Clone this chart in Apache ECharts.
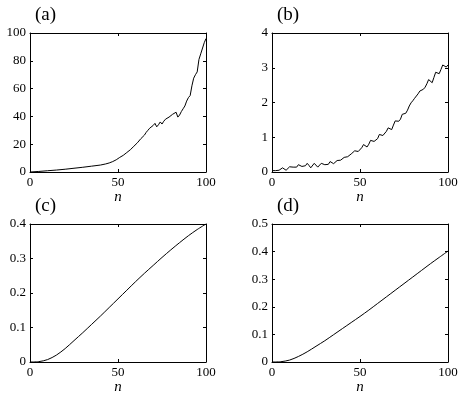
<!DOCTYPE html>
<html>
<head>
<meta charset="utf-8">
<script src="https://cdn.jsdelivr.net/npm/echarts@6/dist/echarts.min.js"></script>
<style>html,body{margin:0;padding:0;background:#fff;}#c{width:463px;height:396px;}</style>
</head>
<body>
<div id="c"></div>
<script>
// Panel (a)
const nA = [0,5,10,15,20,25,30,35,40,43,45,47,49,51,53,55,57,59,61,63,65,66,67,68,69,70,71,72,73,74,75,76,77,78,79,80,81,82,83,84,85,86,87,88,89,90,91,92,93,94,95,96,97,98,99,100];
const vA = [0,0.4,0.9,1.4,2.0,2.7,3.4,4.2,5.0,5.8,6.5,7.5,8.8,10.5,12,14,16,18.5,21,24,26.5,28.5,30,31.5,32.5,33.5,35,32.5,34,36,34.5,36.5,38,37.5,39.5,40,41.5,40.5,43,39.5,41,43.5,45.5,47.5,51,53.5,55,62,67.5,70,72,81,85,86,93,96];
// Panel (b)
const nB = Array.from({length:101},(_, i)=>i);
const vB = [0.04,0.05,0.04,0.02,0.05,0.09,0.12,0.10,0.05,0.08,
            0.15,0.19,0.14,0.09,0.14,0.21,0.23,0.16,0.12,0.18,
            0.25,0.19,0.12,0.17,0.25,0.24,0.14,0.17,0.25,0.28,
            0.21,0.16,0.22,0.30,0.29,0.24,0.27,0.33,0.35,0.34,
            0.37,0.42,0.45,0.44,0.47,0.52,0.54,0.61,0.62,0.59,
            0.62,0.70,0.79,0.76,0.72,0.80,0.91,0.95,0.88,0.85,
            0.96,1.08,1.12,1.05,1.03,1.17,1.27,1.24,1.22,1.35,
            1.47,1.49,1.46,1.52,1.66,1.70,1.69,1.78,1.90,1.99,
            2.05,2.12,2.17,2.25,2.33,2.38,2.38,2.44,2.54,2.66,
            2.62,2.57,2.72,2.87,2.85,2.83,2.95,3.08,3.12,3.02,3.08];
// Panel (c)
const nC = [0,5,10,15,20,25,30,35,40,45,50,55,60,65,70,75,80,85,90,95,100];
const vC = [0,0.001,0.007,0.02,0.039,0.062,0.085,0.109,0.133,0.158,0.183,0.208,0.233,0.257,0.28,0.303,0.325,0.346,0.366,0.384,0.4];
// Panel (d)
const nD = [0,5,10,15,20,25,30,35,40,45,50,55,60,65,70,75,80,85,90,95,100];
const vD = [0,0.001,0.007,0.02,0.037,0.057,0.077,0.099,0.121,0.143,0.165,0.188,0.212,0.236,0.26,0.284,0.308,0.332,0.356,0.379,0.402];

const panelLabels = ['(a)','(b)','(c)','(d)'];
const xTicks = {min:0, max:100, interval:50};
const yRanges = [{min:0,max:100,interval:20},{min:0,max:4,interval:1},{min:0,max:0.4,interval:0.1},{min:0,max:0.5,interval:0.1}];

const FONT = '"Liberation Serif", "DejaVu Serif", serif';
const grids = [
  {left:30, top:33, width:176, height:139},
  {left:272, top:33, width:176, height:139},
  {left:30, top:224, width:176, height:139},
  {left:272, top:224, width:176, height:139}
];
const lineC = '#000';
const xAxes = [], yAxes = [], series = [];
const datasets = [[nA,vA,false],[nB,vB,false],[nC,vC,true],[nD,vD,true]];
grids.forEach((g,i)=>{
  xAxes.push({type:'value', gridIndex:i, position:'bottom', min:xTicks.min, max:xTicks.max, interval:xTicks.interval,
    axisLine:{show:true,onZero:false,lineStyle:{color:lineC,width:1}},
    axisTick:{show:true,inside:true,length:3,lineStyle:{color:lineC}},
    axisLabel:{show:true,margin:4,color:'#000',fontFamily:FONT,fontSize:13},
    splitLine:{show:false},
    name:'n', nameLocation:'middle', nameGap:18,
    nameTextStyle:{fontFamily:FONT,fontStyle:'italic',fontSize:15,color:'#000'}});
  xAxes.push({type:'value', gridIndex:i, position:'top', min:xTicks.min, max:xTicks.max, interval:xTicks.interval,
    axisLine:{show:true,onZero:false,lineStyle:{color:lineC,width:1}},
    axisTick:{show:true,inside:true,length:3,lineStyle:{color:lineC}},
    axisLabel:{show:false}, splitLine:{show:false}});
  const yr = yRanges[i];
  yAxes.push({type:'value', gridIndex:i, position:'left', min:yr.min, max:yr.max, interval:yr.interval,
    axisLine:{show:true,onZero:false,lineStyle:{color:lineC,width:1}},
    axisTick:{show:true,inside:true,length:3,lineStyle:{color:lineC}},
    axisLabel:{show:true,margin:4,color:'#000',fontFamily:FONT,fontSize:13},
    splitLine:{show:false}});
  yAxes.push({type:'value', gridIndex:i, position:'right', min:yr.min, max:yr.max, interval:yr.interval,
    axisLine:{show:true,onZero:false,lineStyle:{color:lineC,width:1}},
    axisTick:{show:true,inside:true,length:3,lineStyle:{color:lineC}},
    axisLabel:{show:false}, splitLine:{show:false}});
  const [xs, ys, sm] = datasets[i];
  series.push({type:'line', xAxisIndex:2*i, yAxisIndex:2*i, showSymbol:false, smooth: sm ? 0.3 : false,
    lineStyle:{color:'#000',width:1}, data: xs.map((x,k)=>[x, ys[k]])});
});

const graphics = grids.map((g,i)=>({type:'text', left:g.left+5, top:g.top-27,
  style:{text:panelLabels[i], font:'19px ' + FONT, fill:'#000'}}));

const chart = echarts.init(document.getElementById('c'), null, {renderer:'canvas'});
chart.setOption({animation:false, backgroundColor:'#fff', grid:grids, xAxis:xAxes, yAxis:yAxes, series:series, graphic:graphics});
</script>
</body>
</html>
